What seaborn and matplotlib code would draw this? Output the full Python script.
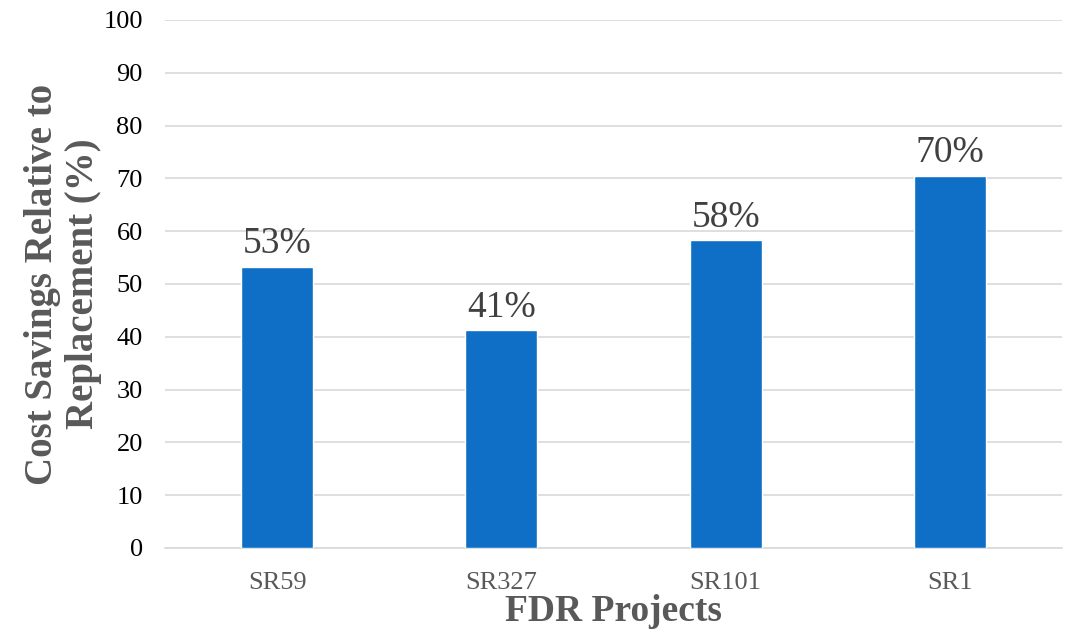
import matplotlib
matplotlib.use("Agg")
import matplotlib.pyplot as plt
import seaborn as sns
import pandas as pd

categories = ["SR59", "SR327", "SR101", "SR1"]
values = [53.3, 41.2, 58.3, 70.5]
labels = ["53%", "41%", "58%", "70%"]
yticks = [0, 10, 20, 30, 40, 50, 60, 70, 80, 90, 100]

sns.set_theme(style="white")
plt.rcParams['font.family'] = ['Liberation Serif', 'DejaVu Serif']

df = pd.DataFrame({"project": categories, "value": values})

fig = plt.figure(figsize=(10.83, 6.39), dpi=100)
ax = fig.add_axes([165/1083, 1 - 548/639, 897/1083, 528/639])
sns.barplot(data=df, x="project", y="value", color="#0F6FC6", saturation=1,
            width=0.32, ax=ax, zorder=3)
ax.set_ylim(0, 100)
ax.set_yticks(yticks)
ax.set_yticklabels([str(t) for t in yticks], fontsize=19, color="black")
ax.tick_params(axis="x", labelsize=19, colors="#595959", length=0, pad=17)
ax.tick_params(axis="y", length=0, pad=16)
ax.grid(axis="y", color="#D9D9D9", linewidth=1.2, zorder=0)
for s in ["top", "right", "left"]:
    ax.spines[s].set_visible(False)
ax.spines["bottom"].set_color("#D9D9D9")
ax.spines["bottom"].set_linewidth(1.2)

for i, (v, t) in enumerate(zip(values, labels)):
    ax.text(i, v + 1.0, t, ha="center", va="bottom", fontsize=27, color="#404040")

ax.set_xlabel("FDR Projects", fontsize=27, fontweight="bold", color="#595959", labelpad=0)
ax.set_ylabel("Cost Savings Relative to\nReplacement (%)", fontsize=28, fontweight="bold",
              color="#595959", labelpad=1, linespacing=1.15)

fig.savefig("out.png", dpi=100)
